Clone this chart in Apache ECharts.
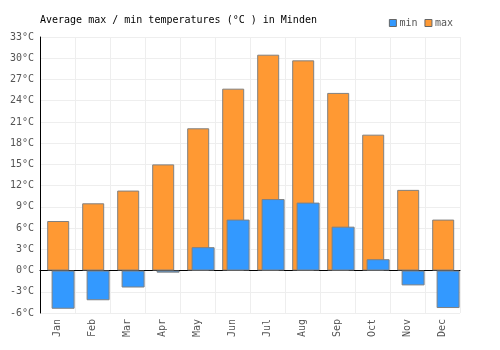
<!DOCTYPE html>
<html>
<head>
<meta charset="utf-8">
<script src="https://cdn.jsdelivr.net/npm/echarts@6/dist/echarts.min.js"></script>
<style>html,body{margin:0;padding:0;background:#fff}#c{width:500px;height:350px}</style>
</head>
<body>
<div id="c"></div>
<script>
const categories = ['Jan','Feb','Mar','Apr','May','Jun','Jul','Aug','Sep','Oct','Nov','Dec'];
const minTemps = [-5.4, -4.2, -2.4, -0.3, 3.3, 7.2, 10.1, 9.6, 6.2, 1.6, -2.1, -5.3];
const maxTemps = [7.0, 9.5, 11.3, 15.0, 20.1, 25.7, 30.5, 29.7, 25.1, 19.2, 11.4, 7.2];
const yMin = -6, yMax = 33, yStep = 3;

const FONT = '"DejaVu Sans Mono", monospace';
const chart = echarts.init(document.getElementById('c'), null, {renderer: 'canvas'});
chart.setOption({
  animation: false,
  backgroundColor: '#fff',
  title: {
    text: 'Average max / min temperatures (°C ) in Minden',
    left: 35, top: 10,
    textStyle: {fontFamily: FONT, fontSize: 10, fontWeight: 'normal', color: '#000'}
  },
  legend: {
    data: ['min', 'max'],
    right: 42, top: 13,
    itemWidth: 7, itemHeight: 7, itemGap: 7,
    icon: 'rect',
    textStyle: {fontFamily: FONT, fontSize: 10, color: '#555', padding: [0, 0, 0, -2]},
    itemStyle: {borderColor: '#666', borderWidth: 1}
  },
  grid: {left: 40, right: 40, top: 37, bottom: 37, containLabel: false, outerBoundsMode: 'none'},
  xAxis: {
    type: 'category',
    data: categories,
    boundaryGap: true,
    axisLine: {onZero: true, lineStyle: {color: '#000', width: 1}},
    axisTick: {show: false},
    splitLine: {show: true, lineStyle: {color: '#eee', width: 1}},
    axisLabel: {rotate: 90, fontFamily: FONT, fontSize: 10, color: '#555', margin: 6, interval: 0}
  },
  yAxis: {
    type: 'value',
    min: yMin, max: yMax, interval: yStep,
    axisLine: {show: true, lineStyle: {color: '#000', width: 1}},
    axisTick: {show: false},
    splitLine: {show: true, lineStyle: {color: '#eee', width: 1}},
    axisLabel: {formatter: '{value}°C', fontFamily: FONT, fontSize: 10, color: '#555', margin: 6}
  },
  series: [
    {name: 'spacer', type: 'bar', data: [], barWidth: 34, barGap: '-80%', silent: true},
    {name: 'max', type: 'bar', data: maxTemps, barWidth: 22, barGap: '-80%',
      itemStyle: {color: '#FF9933', borderColor: '#808080', borderWidth: 1}},
    {name: 'min', type: 'bar', data: minTemps, barWidth: 23, barGap: '-80%',
      itemStyle: {color: '#3399FF', borderColor: '#808080', borderWidth: 1}}
  ]
});
</script>
</body>
</html>
